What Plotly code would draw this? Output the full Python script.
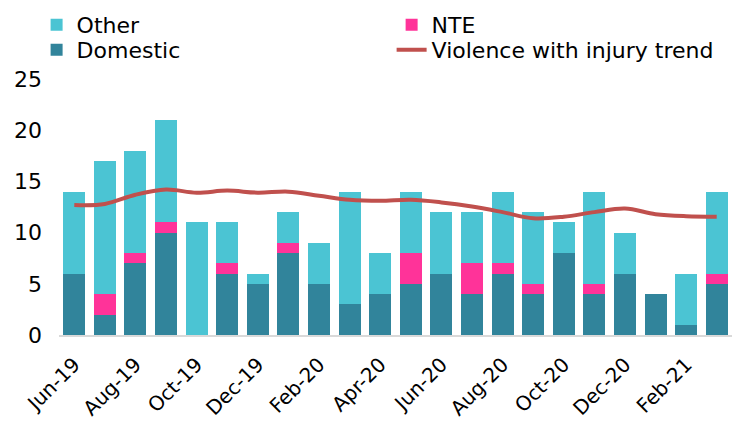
import plotly.graph_objects as go

months = ["Jun-19", "Jul-19", "Aug-19", "Sep-19", "Oct-19", "Nov-19", "Dec-19", "Jan-20",
          "Feb-20", "Mar-20", "Apr-20", "May-20", "Jun-20", "Jul-20", "Aug-20", "Sep-20",
          "Oct-20", "Nov-20", "Dec-20", "Jan-21", "Feb-21", "Mar-21"]
domestic = [6, 2, 7, 10, 0, 6, 5, 8, 5, 3, 4, 5, 6, 4, 6, 4, 8, 4, 6, 4, 1, 5]
nte = [0, 2, 1, 1, 0, 1, 0, 1, 0, 0, 0, 3, 0, 3, 1, 1, 0, 1, 0, 0, 0, 1]
other = [8, 13, 10, 10, 11, 4, 1, 3, 4, 11, 4, 6, 6, 5, 7, 7, 3, 9, 4, 0, 5, 8]
trend = [12.7, 12.8, 13.7, 14.2, 13.9, 14.1, 13.9, 14.0, 13.6, 13.2, 13.1, 13.2,
         12.95, 12.55, 12.0, 11.4, 11.55, 12.0, 12.35, 11.8, 11.6, 11.55]
tick_labels = months[::2]

font = "DejaVu Sans"
fig = go.Figure()
fig.add_trace(go.Bar(x=months, y=domestic, name="Domestic", marker_color="#31849B",
                     marker_line_width=0, legend="legend3"))
fig.add_trace(go.Bar(x=months, y=nte, name="NTE", marker_color="#FF3399",
                     marker_line_width=0, legend="legend2"))
fig.add_trace(go.Bar(x=months, y=other, name="Other", marker_color="#4BC4D3",
                     marker_line_width=0, legend="legend"))
fig.add_trace(go.Scatter(x=months, y=trend, name="Violence with injury trend", mode="lines",
                         line=dict(color="#C0504D", width=4, shape="spline"),
                         legend="legend4"))

H = 423.0
leg_common = dict(orientation="v", xref="container", yref="container", xanchor="left",
                  yanchor="top", font=dict(size=22), bgcolor="rgba(0,0,0,0)", itemwidth=30)
row1 = 1 - 4 / H
row2 = 1 - 29 / H

fig.update_layout(
    width=732, height=423,
    barmode="stack", bargap=0.28,
    plot_bgcolor="white", paper_bgcolor="white",
    margin=dict(l=59, r=0, t=79, b=88, autoexpand=False),
    font=dict(family=font, size=22, color="#000000"),
    legend=dict(x=0.05, y=row1, **leg_common),
    legend2=dict(x=0.535, y=row1, **leg_common),
    legend3=dict(x=0.05, y=row2, **leg_common),
    legend4=dict(x=0.535, y=row2, **leg_common),
    showlegend=True,
)
fig.update_xaxes(type="category", tickmode="array", tickvals=tick_labels, ticktext=tick_labels,
                 tickangle=-45, showline=True, linecolor="#D9D9D9", linewidth=2,
                 showgrid=False, ticks="", ticklabelstandoff=8,
                 tickfont=dict(size=20, family=font))
fig.update_yaxes(range=[0, 25], dtick=5, showgrid=False, zeroline=False, showline=False,
                 ticks="", ticklabelstandoff=16, tickfont=dict(size=22, family=font))

fig.write_html("out.html", config={"displayModeBar": False},
               post_script="document.body.style.margin='0';")
